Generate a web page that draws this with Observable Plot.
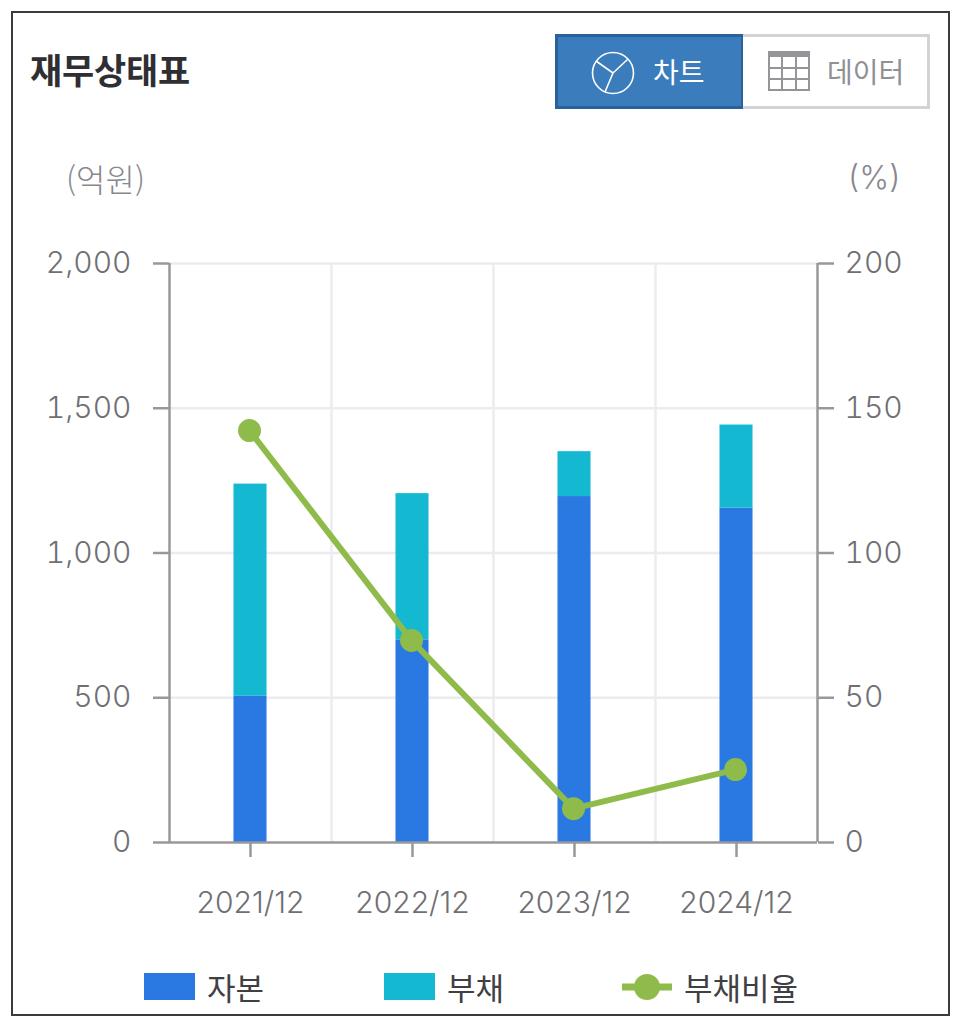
<!DOCTYPE html>
<html lang="ko">
<head>
<meta charset="utf-8">
<script src="https://cdn.jsdelivr.net/npm/d3@7"></script>
<script src="https://cdn.jsdelivr.net/npm/@observablehq/plot@0.6"></script>
<style>
html,body{margin:0;padding:0;background:#fff;}
body{width:960px;height:1026px;position:relative;overflow:hidden;font-family:"Noto Sans CJK KR","Noto Sans",sans-serif;}
#frame{position:absolute;left:11px;top:11px;width:935px;height:1001px;border:2px solid #3a3a40;}
#title{position:absolute;left:30px;top:45px;font-size:35px;line-height:48px;font-weight:700;color:#2f2f33;letter-spacing:-0.2px;}
.btn{position:absolute;top:34px;height:75px;box-sizing:border-box;display:flex;align-items:center;font-size:28px;}
#b1{left:555px;width:189px;background:#3a7cbc;border:3px solid #29619a;color:#fff;}
#b2{left:743px;width:187px;background:#fff;border:3px solid #d3d3d7;border-left:none;color:#8f8f94;}
.btn svg{position:absolute;top:14px;}
.btn span{position:absolute;top:14px;line-height:40px;}
.unit{position:absolute;top:157px;font-size:32px;line-height:42px;color:#88888d;font-weight:300;}
#chart{position:absolute;left:0;top:130px;}
.lg{position:absolute;top:966px;font-size:31px;line-height:42px;color:#3f3f44;}
.sw{position:absolute;top:973px;width:51px;height:27px;}
</style>
</head>
<body>
<div id="frame"></div>
<div id="title">재무상태표</div>
<div class="btn" id="b1">
<svg style="left:32px" width="46" height="44" viewBox="0 0 46 44" fill="none" stroke="#fff" stroke-width="1.6"><circle cx="23" cy="22" r="20.5"/><path d="M23 22 L6 10 M23 22 L38 8 M23 22 L15 41"/></svg>
<span style="left:95px">차트</span></div>
<div class="btn" id="b2">
<svg style="left:25px" width="42" height="40" viewBox="0 0 42 40" fill="none" stroke="#959599" stroke-width="2"><rect x="1" y="1" width="40" height="38"/><rect x="0" y="0" width="42" height="6" fill="#959599" stroke="none"/><path d="M14 6V39M28 6V39M1 17H41M1 28H41"/></svg>
<span style="left:84px">데이터</span></div>
<div class="unit" style="left:66px">(억원)</div>
<div class="unit" style="left:848px;font-family:Inter;font-size:32px">(%)</div>
<div id="chart"></div>
<div class="sw" style="left:144px;background:#2a79e2"></div>
<div class="lg" style="left:207px">자본</div>
<div class="sw" style="left:384px;background:#14b8d0"></div>
<div class="lg" style="left:447px">부채</div>
<svg style="position:absolute;left:622px;top:973px" width="50" height="28"><path d="M0 14H50" stroke="#8fbb4b" stroke-width="7"/><circle cx="25" cy="14" r="13" fill="#8fbb4b"/></svg>
<div class="lg" style="left:684px">부채비율</div>
<script>
const periods = ["2021/12", "2022/12", "2023/12", "2024/12"];
const equity = [505, 700, 1195, 1155];
const liabilities = [733, 505, 155, 287];
const debtRatio = [142.3, 69.8, 11.7, 25.2];
const yTicks = [0, 500, 1000, 1500, 2000];
const ratioFactor = 10;

const stackRows = periods.flatMap((p, i) => [
  {period: p, kind: "자본", value: equity[i]},
  {period: p, kind: "부채", value: liabilities[i]}
]);
const ratioRows = periods.map((p, i) => ({period: p, ratio: debtRatio[i] * ratioFactor}));

const axisColor = "#98989c", gridColor = "#ececf0", textColor = "#6f6f74";
const halfStep = 81;
const fontFamily = 'Inter,"Noto Sans",sans-serif';

const chart = Plot.plot({
  width: 960,
  height: 770,
  marginTop: 133,
  marginBottom: 58,
  marginLeft: 169,
  marginRight: 143,
  style: {fontFamily, fontSize: "28px", background: "transparent", overflow: "visible"},
  x: {domain: periods, paddingInner: 0.796, paddingOuter: 0.398, round: false, label: null},
  y: {domain: [0, 2000], label: null},
  color: {domain: ["자본", "부채"], range: ["#2a79e2", "#14b8d0"]},
  marks: [
    Plot.ruleY(yTicks.slice(1), {stroke: gridColor, strokeWidth: 2.5}),
    Plot.ruleX(periods.slice(0, 3), {dx: halfStep, stroke: gridColor, strokeWidth: 2.5}),
    Plot.barY(stackRows, {x: "period", y: "value", fill: "kind", order: ["자본", "부채"]}),
    Plot.ruleX(periods.slice(0, 1), {dx: -halfStep, stroke: axisColor, strokeWidth: 2.5}),
    Plot.ruleX(periods.slice(3), {dx: halfStep, stroke: axisColor, strokeWidth: 2.5}),
    Plot.ruleY([0], {stroke: axisColor, strokeWidth: 2.5}),
    Plot.axisY({anchor: "left", ticks: yTicks, tickSize: 16, tickPadding: 22, tickFormat: d3.format(","), stroke: axisColor, strokeWidth: 2.5, fill: textColor, fontWeight: 300, fontSize: 30, label: null}),
    Plot.axisY({anchor: "right", ticks: yTicks, tickSize: 16, tickPadding: 11, tickFormat: d => d / ratioFactor, stroke: axisColor, strokeWidth: 2.5, fill: textColor, fontWeight: 300, fontSize: 30, label: null}),
    Plot.axisX({anchor: "bottom", tickSize: 15, tickPadding: 34, stroke: axisColor, strokeWidth: 2.5, fill: textColor, fontWeight: 300, fontSize: 30, label: null}),
    Plot.line(ratioRows, {x: "period", y: "ratio", dx: -1, stroke: "#8fbb4b", strokeWidth: 6}),
    Plot.dot(ratioRows, {x: "period", y: "ratio", dx: -1, r: 11.5, fill: "#8fbb4b", stroke: "none"})
  ]
});
document.getElementById("chart").appendChild(chart);
</script>
</body>
</html>
